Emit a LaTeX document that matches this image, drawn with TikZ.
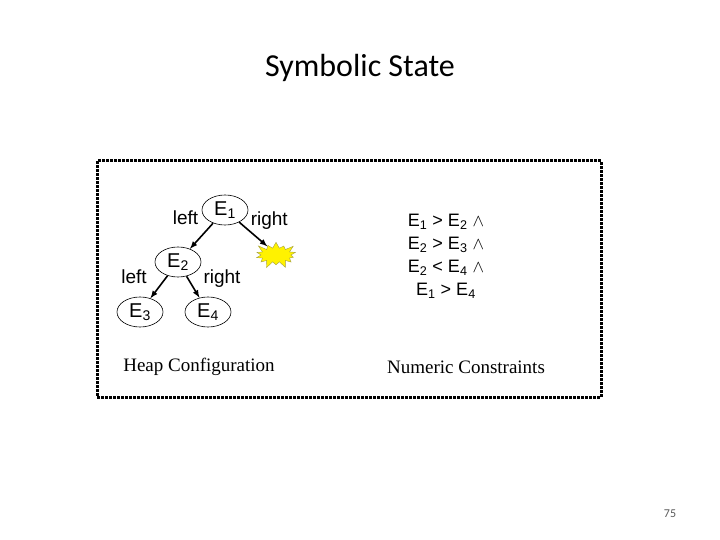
\documentclass[tikz,border=0pt]{standalone}
\usepackage{fontspec}
\setmainfont{Liberation Serif}
\newfontfamily\arialfont{Liberation Sans}
\newfontfamily\calibrifont{Carlito}
\usetikzlibrary{shapes.geometric,shapes.symbols}
\begin{document}
\begin{tikzpicture}[x=1pt, y=-1pt, every node/.append style={text=black},
	heapnode/.style={draw, semithick, ellipse, minimum width=46pt, minimum height=30pt, inner sep=0pt, font=\arialfont\fontsize{20}{20}\selectfont},
	edgelabel/.style={font=\arialfont\fontsize{19}{19}\selectfont, inner sep=2pt},
	link/.style={-latex, line width=1.6pt}]
	\useasboundingbox (0,0) rectangle (720,540);
	\node (title) at (360,68) {\calibrifont\fontsize{32}{32}\selectfont Symbolic State};
	\draw[line width=3pt, densely dotted] (97,161) rectangle (601,397);
	% heap
	\node[heapnode] (e1) at (225,210) {E\textsubscript{1}};
	\node[heapnode] (e2) at (178,262) {E\textsubscript{2}};
	\node[heapnode] (e3) at (140,312) {E\textsubscript{3}};
	\node[heapnode] (e4) at (208,312) {E\textsubscript{4}};
	\node[starburst, draw=yellow!60!black, fill=yellow, minimum width=46pt, minimum height=30pt, starburst points=14, starburst point height=8pt] (err) at (276,255) {};
	\draw[link] (e1) -- (e2) node[edgelabel, midway, xshift=-16pt, yshift=18pt] {left};
	\draw[link] (e1) -- (err.north west) node[edgelabel, midway, xshift=16pt, yshift=14pt] {right};
	\draw[link] (e2) -- (e3) node[edgelabel, midway, xshift=-25pt, yshift=10pt] {left};
	\draw[link] (e2) -- (e4) node[edgelabel, midway, xshift=29pt, yshift=8pt] {right};
	% constraints
	\node[font=\arialfont\fontsize{18}{23}\selectfont, align=center] (cons) at (446,256) {E\textsubscript{1} > E\textsubscript{2} $\wedge$\\E\textsubscript{2} > E\textsubscript{3} $\wedge$\\E\textsubscript{2} < E\textsubscript{4} $\wedge$\\E\textsubscript{1} > E\textsubscript{4}};
	\node[font=\fontsize{19}{19}\selectfont] (heaplbl) at (199,367) {Heap Configuration};
	\node[font=\fontsize{19}{19}\selectfont] (numlbl) at (466,367) {Numeric Constraints};
	\node[font=\calibrifont\fontsize{12}{12}\selectfont, text=gray!70!black] (page) at (670,514) {75};
\end{tikzpicture}
\end{document}
